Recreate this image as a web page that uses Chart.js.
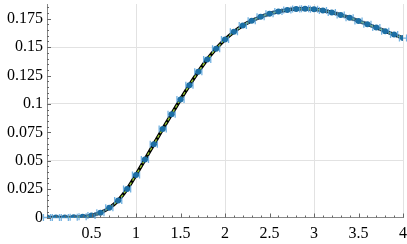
<!DOCTYPE html>
<html>
<head>
<meta charset="utf-8">
<script src="https://cdn.jsdelivr.net/npm/chart.js@4"></script>
<style>
  html, body { margin: 0; padding: 0; background: #fff; overflow: hidden; }
  canvas { display: block; }
</style>
</head>
<body>
<canvas id="myChart" width="407" height="244"></canvas>
<script>
// sample positions and values
var xs = [0, 0.1, 0.2, 0.3, 0.4, 0.5, 0.6, 0.7, 0.8, 0.9,
          1.0, 1.1, 1.2, 1.3, 1.4, 1.5, 1.6, 1.7, 1.8, 1.9,
          2.0, 2.1, 2.2, 2.3, 2.4, 2.5, 2.6, 2.7, 2.8, 2.9,
          3.0, 3.1, 3.2, 3.3, 3.4, 3.5, 3.6, 3.7, 3.8, 3.9, 4.0];
var ys = [0, 0, 0, 0.0002, 0.0006, 0.0018, 0.0042, 0.0085, 0.015, 0.025,
          0.0375, 0.051, 0.0645, 0.078, 0.091, 0.104, 0.1165, 0.1283, 0.1392, 0.1487,
          0.1568, 0.1635, 0.169, 0.1733, 0.1767, 0.1794, 0.1814, 0.1828, 0.1836, 0.1838,
          0.1834, 0.1823, 0.1806, 0.1784, 0.1759, 0.1731, 0.1702, 0.1672, 0.1641, 0.1611, 0.158];
var xErr = 0.04;

var xLabels = [0.5, 1, 1.5, 2, 2.5, 3, 3.5, 4];
var yLabels = [0, 0.025, 0.05, 0.075, 0.1, 0.125, 0.15, 0.175];

var pts = xs.map(function (x, i) { return {x: x, y: ys[i]}; });

function near(v, list) {
  return list.some(function (t) { return Math.abs(t - v) < 1e-6; });
}

var errorBars = {
  id: 'errorBars',
  beforeDatasetDraw: function (chart, args) {
    if (args.index !== 0) return;
    var c = chart.ctx, xs_ = chart.scales.x, ys_ = chart.scales.y;
    c.save();
    c.strokeStyle = 'rgba(90,165,220,0.85)';
    c.lineWidth = 1.3;
    pts.forEach(function (p) {
      var x0 = xs_.getPixelForValue(p.x - xErr);
      var x1 = xs_.getPixelForValue(p.x + xErr);
      var py = ys_.getPixelForValue(p.y);
      c.beginPath();
      c.moveTo(x0, py); c.lineTo(x1, py);
      c.moveTo(x0, py - 3.5); c.lineTo(x0, py + 3.5);
      c.moveTo(x1, py - 3.5); c.lineTo(x1, py + 3.5);
      c.stroke();
    });
    c.restore();
  }
};

var innerTicks = {
  id: 'innerTicks',
  afterDraw: function (chart) {
    var c = chart.ctx, a = chart.chartArea;
    var sx = chart.scales.x, sy = chart.scales.y;
    c.save();
    c.strokeStyle = '#666';
    c.lineWidth = 1;
    c.beginPath();
    sx.ticks.forEach(function (t) {
      var px = Math.round(sx.getPixelForValue(t.value)) + 0.5;
      var len = near(t.value, xLabels) ? 4 : 2;
      c.moveTo(px, a.bottom); c.lineTo(px, a.bottom - len);
    });
    sy.ticks.forEach(function (t) {
      var py = Math.round(sy.getPixelForValue(t.value)) + 0.5;
      var len = near(t.value, yLabels) ? 4 : 2;
      c.moveTo(a.left, py); c.lineTo(a.left + len, py);
    });
    c.stroke();
    c.restore();
  }
};

var ctx = document.getElementById('myChart').getContext('2d');
var myChart = new Chart(ctx, {
  type: 'scatter',
  data: {
    datasets: [{
      label: 'samples',
      data: pts,
      showLine: false,
      pointRadius: 3,
      pointBackgroundColor: '#1c6ea4',
      pointBorderColor: '#1c6ea4',
      pointBorderWidth: 0
    }, {
      label: 'fit',
      data: pts,
      showLine: true,
      borderColor: '#9acd32',
      borderWidth: 1.3,
      borderDash: [3, 2],
      pointRadius: 0,
      tension: 0.3
    }, {
      label: 'exact',
      data: pts,
      showLine: true,
      borderColor: '#000',
      borderWidth: 3.5,
      pointRadius: 0,
      tension: 0.3
    }]
  },
  options: {
    responsive: false,
    animation: false,
    devicePixelRatio: 1,
    layout: { padding: { top: 2, right: 4, left: 0, bottom: 0 } },
    plugins: { legend: { display: false }, tooltip: { enabled: false } },
    scales: {
      x: {
        type: 'linear',
        min: 0,
        max: 4,
        afterFit: function (s) { s.height = 26.5; s.paddingLeft = 0; s.paddingRight = 0; },
        border: { color: '#888', width: 1 },
        grid: {
          drawTicks: false,
          color: function (ctx) {
            var v = ctx.tick ? ctx.tick.value : 0;
            return Math.abs(v - Math.round(v)) < 1e-6 ? '#e2e2e2' : 'rgba(0,0,0,0)';
          }
        },
        ticks: {
          stepSize: 0.1,
          autoSkip: false,
          maxRotation: 0,
          includeBounds: false,
          padding: 7,
          color: '#000',
          font: { family: 'Liberation Serif', size: 16 },
          callback: function (v) { return near(v, xLabels) ? String(Math.round(v * 10) / 10) : ''; }
        }
      },
      y: {
        type: 'linear',
        min: 0,
        max: 0.188,
        afterFit: function (s) { s.width = 47; s.paddingTop = 0; s.paddingBottom = 0; },
        border: { color: '#888', width: 1 },
        grid: {
          drawTicks: false,
          color: function (ctx) {
            var v = ctx.tick ? ctx.tick.value : 0;
            return Math.round(v * 1000) % 50 === 0 ? '#e2e2e2' : 'rgba(0,0,0,0)';
          }
        },
        ticks: {
          stepSize: 0.005,
          maxTicksLimit: 1000,
          autoSkip: false,
          includeBounds: false,
          padding: 4,
          color: '#000',
          font: { family: 'Liberation Serif', size: 16 },
          callback: function (v) { return near(v, yLabels) ? String(Math.round(v * 1000) / 1000) : ''; }
        }
      }
    }
  },
  plugins: [errorBars, innerTicks]
});
</script>
</body>
</html>
